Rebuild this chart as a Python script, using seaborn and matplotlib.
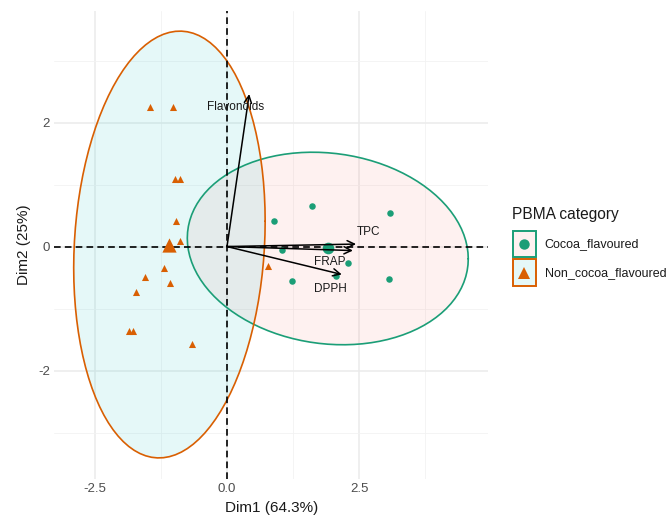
import numpy as np
import pandas as pd
import matplotlib
matplotlib.use("Agg")
import matplotlib.pyplot as plt
from matplotlib.patches import Rectangle
from matplotlib.lines import Line2D
import matplotlib.colors as mcolors
import seaborn as sns

# ---------------- data ----------------
cocoa_x = [0.894, 1.600, 3.080, 1.034, 2.293, 1.229, 2.055, 3.057]
cocoa_y = [0.414, 0.661, 0.548, -0.053, -0.268, -0.558, -0.473, -0.521]
non_x = [-1.456, -1.015, -0.983, -0.888, -0.970, -0.883, -1.197, -1.550,
         -1.083, -1.720, -1.847, -1.771, -0.656, 0.781]
non_y = [2.258, 2.258, 1.087, 1.087, 0.420, 0.097, -0.349, -0.484,
         -0.580, -0.730, -1.360, -1.360, -1.580, -0.306]
groups = ["Cocoa_flavoured", "Non_cocoa_flavoured"]

var_names = ["Flavonoids", "TPC", "FRAP", "DPPH"]
var_x = [0.42, 2.44, 2.38, 2.17]
var_y = [2.46, 0.04, -0.065, -0.45]
label_x = [0.17, 2.67, 1.95, 1.95]
label_y = [2.25, 0.24, -0.25, -0.68]

xlabel = "Dim1 (64.3%)"
ylabel = "Dim2 (25%)"
legend_title = "PBMA category"

# ---------------- style ----------------
line_colors = {"Cocoa_flavoured": "#1B9E77", "Non_cocoa_flavoured": "#D95F02"}
fill_colors = {"Cocoa_flavoured": "#F8766D", "Non_cocoa_flavoured": "#00BFC4"}
markers = {"Cocoa_flavoured": "o", "Non_cocoa_flavoured": "^"}

sns.set_theme(style="white")
plt.rcParams["font.family"] = ["Liberation Sans", "DejaVu Sans"]

df = pd.DataFrame({
    "x": cocoa_x + non_x,
    "y": cocoa_y + non_y,
    "group": [groups[0]] * len(cocoa_x) + [groups[1]] * len(non_x),
})

W, H = 670, 528
fig = plt.figure(figsize=(W / 100, H / 100), dpi=100)
ax = fig.add_axes([54.3 / W, 1 - 479 / H, (488.3 - 54.3) / W, (479 - 11) / H])
ax.set_xlim(-3.265, 4.94)
ax.set_ylim(-3.75, 3.80)

# grid (theme_minimal)
for v in [-2.5, 0, 2.5]:
    ax.axvline(v, color="#EBEBEB", lw=1.1, zorder=0)
for v in [-1.25, 1.25, 3.75]:
    ax.axvline(v, color="#F2F2F2", lw=0.6, zorder=0)
for v in [-2, 0, 2]:
    ax.axhline(v, color="#EBEBEB", lw=1.1, zorder=0)
for v in [-3, -1, 1, 3]:
    ax.axhline(v, color="#F2F2F2", lw=0.6, zorder=0)

# ellipses (normal, level 0.95, like stat_ellipse)
def ellipse_pts(xs, ys, level=0.95, seg=101):
    pts = np.column_stack([xs, ys])
    n = len(pts)
    center = pts.mean(axis=0)
    cov = np.cov(pts.T)
    d = n - 1
    fq = (d / 2) * ((1 - level) ** (-2 / d) - 1)
    r = np.sqrt(2 * fq)
    t = np.linspace(0, 2 * np.pi, seg)
    circ = np.column_stack([np.cos(t), np.sin(t)])
    chol = np.linalg.cholesky(cov).T
    return center + r * circ @ chol

for g in groups:
    sub = df[df.group == g]
    e = ellipse_pts(sub.x.values, sub.y.values)
    ax.fill(e[:, 0], e[:, 1], color=fill_colors[g], alpha=0.1, lw=0, zorder=1)
    ax.plot(e[:, 0], e[:, 1], color=line_colors[g], lw=1.2, zorder=2)

# dashed axes lines
ax.axhline(0, color="black", lw=1.2, ls=(0, (4, 2.5)), zorder=3)
ax.axvline(0, color="black", lw=1.2, ls=(0, (4, 2.5)), zorder=3)

# points
sns.scatterplot(data=df[df.group == groups[0]], x="x", y="y", marker="o",
                color=line_colors[groups[0]], s=22, linewidth=0, ax=ax,
                legend=False, zorder=4)
sns.scatterplot(data=df[df.group == groups[1]], x="x", y="y", marker="^",
                color=line_colors[groups[1]], s=26, linewidth=0, ax=ax,
                legend=False, zorder=4)

# group means (bigger)
means = df.groupby("group")[["x", "y"]].mean().reset_index()
for _, row in means.iterrows():
    sns.scatterplot(x=[row.x], y=[row.y], marker=markers[row.group],
                    color=line_colors[row.group],
                    s=70 if row.group == groups[0] else 105,
                    linewidth=0, ax=ax, legend=False, zorder=5)

# variable arrows
for name, vx, vy, lx, ly in zip(var_names, var_x, var_y, label_x, label_y):
    ax.annotate("", xy=(vx, vy), xytext=(0, 0),
                arrowprops=dict(arrowstyle="->", color="black", lw=1.1,
                                shrinkA=0, shrinkB=0, mutation_scale=13),
                zorder=6)
    ax.text(lx, ly, name, ha="center", va="center", fontsize=8.5,
            color="#1A1A1A", zorder=7)

# axes styling
for s in ax.spines.values():
    s.set_visible(False)
ax.set_xticks([-2.5, 0, 2.5])
ax.set_xticklabels(["-2.5", "0.0", "2.5"])
ax.set_yticks([-2, 0, 2])
ax.set_yticklabels(["-2", "0", "2"])
ax.tick_params(axis="both", length=0, labelsize=9.5, labelcolor="#4D4D4D", pad=3)
ax.set_xlabel(xlabel, fontsize=11, color="#1A1A1A", labelpad=4)
ax.set_ylabel(ylabel, fontsize=11, color="#1A1A1A", labelpad=5)
ax.grid(False)

# legend (drawn in figure pixel coordinates, ggplot-style keys)
def fx(px):
    return px / W

def fy(py):
    return 1 - py / H

fig.text(fx(512), fy(215), legend_title, fontsize=11.2, color="#1A1A1A",
         ha="left", va="center")
key_tops = [230.7, 259.3]
for g, top in zip(groups, key_tops):
    rect = Rectangle((fx(512.5), fy(top + 26.5)), fx(23), 26.5 / H,
                     transform=fig.transFigure,
                     facecolor=mcolors.to_rgba(fill_colors[g], 0.1),
                     edgecolor=line_colors[g], lw=1.4)
    fig.add_artist(rect)
    cy = top + 13.3
    mk = Line2D([fx(524)], [fy(cy)], transform=fig.transFigure,
                marker=markers[g], color=line_colors[g], ls="",
                markersize=7.5 if g == groups[0] else 9, markeredgewidth=0)
    fig.add_artist(mk)
    fig.text(fx(544.5), fy(cy), g, fontsize=9, color="#1A1A1A",
             ha="left", va="center")

fig.savefig("out.png", dpi=100)
